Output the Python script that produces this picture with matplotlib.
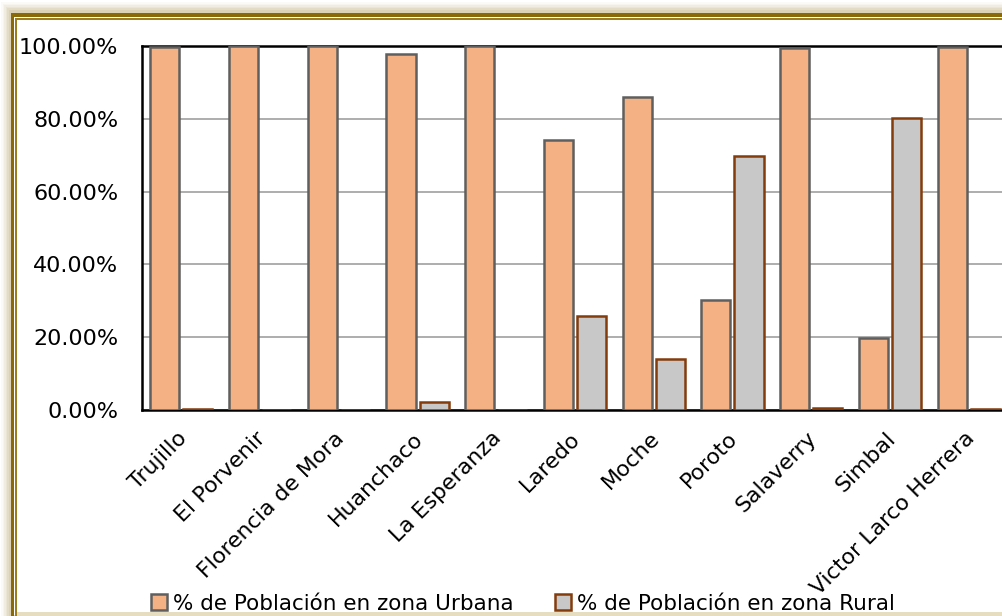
import matplotlib
matplotlib.use("Agg")
import matplotlib.pyplot as plt
from matplotlib.patches import Rectangle
import numpy as np

plt.rcParams['font.family'] = ['DejaVu Sans']

categories = ["Trujillo", "El Porvenir", "Florencia de Mora", "Huanchaco", "La Esperanza",
              "Laredo", "Moche", "Poroto", "Salaverry", "Simbal", "Victor Larco Herrera"]
urbana = [99.8, 100.0, 100.0, 97.8, 100.0, 74.2, 86.1, 30.2, 99.5, 19.7, 99.8]
rural = [0.2, 0.0, 0.0, 2.2, 0.0, 25.8, 13.9, 69.8, 0.5, 80.3, 0.2]
yticks = [0, 20, 40, 60, 80, 100]
serie_urbana = "% de Población en zona Urbana"
serie_rural = "% de Población en zona Rural"

W, H = 1003, 616
fig = plt.figure(figsize=(W / 100, H / 100), dpi=100)
fig.patch.set_facecolor("white")

def px(x, y, w, h, **kw):
    fig.patches.append(Rectangle((x / W, 1 - (y + h) / H), w / W, h / H,
                                 transform=fig.transFigure, **kw))

# shadow around frame
for i, a in enumerate([0.05, 0.07, 0.09, 0.11, 0.13, 0.16]):
    px(1 + i * 1.6, 2 + i * 1.6, W, H, facecolor="#b8a66e", alpha=a, edgecolor="none", zorder=0)
px(12, 15, W, 600, facecolor="white", edgecolor="none", zorder=0.5)
# gold frame lines
px(11, 13, W, 3.5, facecolor="#8a6a08", edgecolor="none", zorder=1)
px(11, 13, 3.5, 603, facecolor="#8a6a08", edgecolor="none", zorder=1)
px(15.5, 18, W, 1.6, facecolor="#9c7c1c", edgecolor="none", zorder=1)
px(15.5, 18, 1.6, 598, facecolor="#9c7c1c", edgecolor="none", zorder=1)
px(17, 612, W, 4, facecolor="#e6ddc0", edgecolor="none", zorder=1)

ax = fig.add_axes([142 / W, 1 - 410 / H, 866 / W, 364 / H])
ax.set_zorder(5)
ax.set_facecolor("none")
x = np.arange(len(categories))
bw = 0.37
off = 0.21
ax.bar(x - off, urbana, bw, color="#f4b183", edgecolor="#5f5f5f", linewidth=1.8,
       label=serie_urbana, zorder=3)
ax.bar(x + off, rural, bw, color="#c8c8c8", edgecolor="#843c0c", linewidth=1.8,
       label=serie_rural, zorder=3)

ax.set_xlim(-0.5, len(categories) - 0.5)
ax.set_ylim(0, 100)
ax.set_yticks(yticks)
ax.set_yticklabels([f"{v:.2f}%" for v in yticks], fontsize=16)
ax.yaxis.grid(True, color="#a0a0a0", linewidth=1.2, zorder=0)
ax.set_axisbelow(True)
ax.tick_params(axis="y", length=0, pad=17)
ax.tick_params(axis="x", length=0, pad=13)
ax.set_xticks(x - 0.06)
ax.set_xticklabels(categories, rotation=45, ha="right", rotation_mode="anchor", fontsize=15.8)
for s in ["left", "bottom", "top"]:
    ax.spines[s].set_color("black")
    ax.spines[s].set_linewidth(1.8)
ax.spines["right"].set_visible(False)

leg = fig.legend(loc="lower left", bbox_to_anchor=(142 / W, -0.01), ncol=2, frameon=False,
                 fontsize=15.5, handlelength=0.75, handleheight=0.75, handletextpad=0.3,
                 columnspacing=1.9, borderaxespad=0)
leg.set_zorder(6)

fig.savefig("out.png", dpi=100)
